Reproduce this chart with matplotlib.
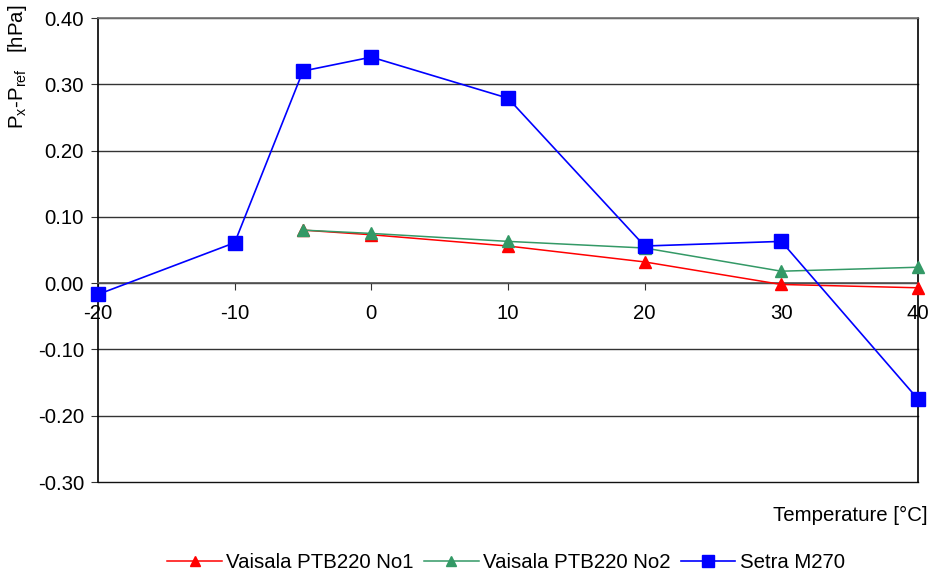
import matplotlib
matplotlib.use("Agg")
import matplotlib.pyplot as plt

plt.rcParams['font.family'] = ['Liberation Sans', 'DejaVu Sans']

temps_ptb = [-5, 0, 10, 20, 30, 40]
ptb_no1 = [0.080, 0.073, 0.056, 0.032, -0.002, -0.007]
ptb_no2 = [0.080, 0.075, 0.063, 0.053, 0.018, 0.024]
temps_setra = [-20, -10, -5, 0, 10, 20, 30, 40]
setra = [-0.017, 0.061, 0.320, 0.341, 0.279, 0.056, 0.063, -0.175]

xticks = [-20, -10, 0, 10, 20, 30, 40]
yticks = [-0.30, -0.20, -0.10, 0.00, 0.10, 0.20, 0.30, 0.40]

FS = 14.7

fig = plt.figure(figsize=(9.29, 5.72), dpi=100)
ax = fig.add_axes([98/929, 1-482/572, (918-98)/929, (482-18)/572])

for y in yticks:
    col = '#111111' if y == yticks[0] else '#333333'
    ax.axhline(y, color=col, lw=1.0, zorder=1, clip_on=False)

l1, = ax.plot(temps_ptb, ptb_no1, color='#FF0000', lw=1.1, marker='^', ms=8,
              label='Vaisala PTB220 No1', zorder=3, clip_on=False)
l2, = ax.plot(temps_ptb, ptb_no2, color='#339966', lw=1.1, marker='^', ms=8,
              label='Vaisala PTB220 No2', zorder=4, clip_on=False)
l3, = ax.plot(temps_setra, setra, color='#0000FF', lw=1.2, marker='s', ms=10,
              label='Setra M270', zorder=5, clip_on=False)

ax.set_xlim(-20, 40)
ax.set_ylim(-0.30, 0.40)
ax.set_xticks(xticks)
ax.set_xticklabels([str(v) for v in xticks])
ax.set_yticks(yticks)
ax.set_yticklabels([f"{v:.2f}" for v in yticks])

ax.spines['bottom'].set_position(('data', 0))
ax.spines['bottom'].set_color('#555555')
ax.spines['top'].set_color('#777777')
ax.spines['left'].set_color('black')
ax.spines['right'].set_color('black')
for s in ax.spines.values():
    s.set_linewidth(1.2)

ax.tick_params(axis='x', direction='out', length=5, pad=10, labelsize=FS, color='#333333')
ax.tick_params(axis='y', direction='out', length=5, pad=5, labelsize=FS, color='#333333')

fig.text(18/929, 1-67/572, r'P$_{\mathregular{x}}$-P$_{\mathregular{ref}}$   [hPa]',
         rotation=90, ha='center', va='center', fontsize=FS)
fig.text(928/929, 1-515/572, 'Temperature [°C]', ha='right', va='center', fontsize=FS)

fig.legend(handles=[l1, l2, l3], loc='center', bbox_to_anchor=(506/929, 1-563/572),
           ncol=3, frameon=False, fontsize=FS, handlelength=2.65, handletextpad=0.2,
           columnspacing=0.55, markerscale=0.85, borderpad=0, borderaxespad=0)

fig.savefig('out.png', dpi=100)
